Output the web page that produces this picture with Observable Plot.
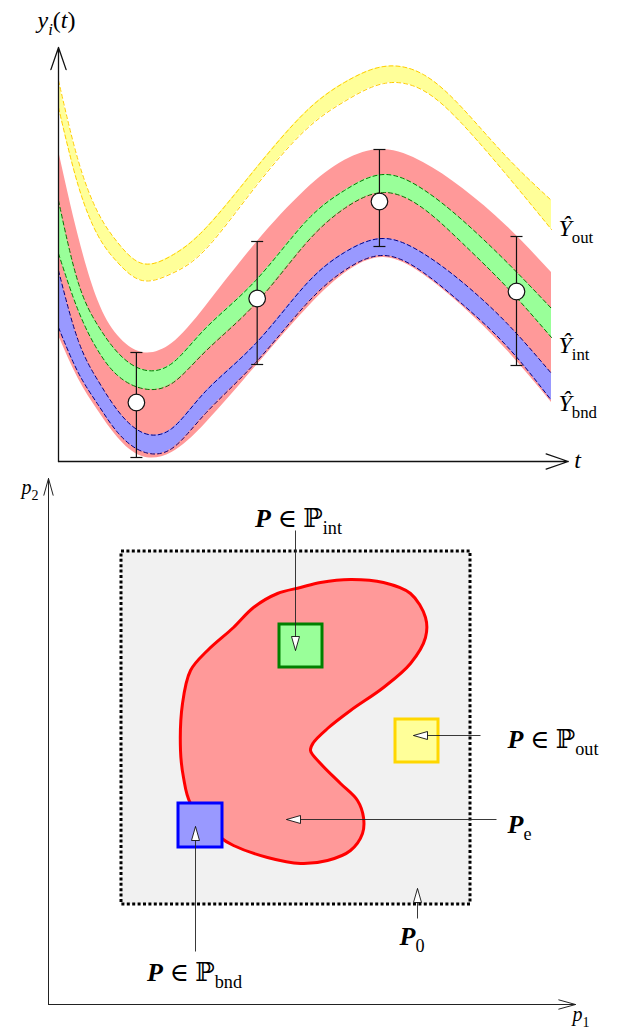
<!DOCTYPE html>
<html>
<head>
<meta charset="utf-8">
<script src="https://cdn.jsdelivr.net/npm/d3@7"></script>
<script src="https://cdn.jsdelivr.net/npm/@observablehq/plot@0.6"></script>
<style>
  html, body { margin: 0; padding: 0; background: white; }
  #chart svg { display: block; }
</style>
</head>
<body>
<div id="chart"></div>
<script>
// ---------- Top panel data: y_i(t) bands ----------
const t          = [0, 0.4, 0.8, 1.2, 1.7, 2.3, 3, 4, 5, 5.8, 6.6, 7.4, 8.2, 9.1, 10];
const redTop     = [31.1, 22.6, 16.1, 12.6, 10.9, 11.8, 15.6, 21.8, 27.1, 30.1, 31.2, 29.9, 27.3, 23.5, 18.9];
const redBottom  = [12.6, 8.3, 5.1, 2.4, 0.5, 0.9, 3.9, 9.5, 15.1, 18.8, 20.4, 18.7, 15.5, 11.1, 5.9];
const outUpper   = [38.1, 30.1, 24.9, 21.9, 19.8, 20.6, 23.4, 29.3, 34.9, 37.9, 39.5, 38.7, 35.3, 30.4, 26.1];
const outLower   = [35.4, 27.6, 22.6, 19.9, 18.1, 18.8, 21.3, 27.5, 33.1, 36.0, 37.8, 37.1, 33.7, 28.6, 23.2];
const intUpper   = [26.1, 17.9, 13.6, 10.9, 9.2, 9.8, 13.4, 18.1, 23.9, 27.1, 28.7, 27.2, 24.1, 19.9, 15.3];
const intLower   = [20.8, 15.1, 11.1, 8.6, 7.3, 7.8, 11.1, 15.8, 21.7, 25.3, 26.9, 25.3, 21.8, 17.4, 12.4];
const bndUpper   = [19.1, 12.1, 8.1, 5.1, 2.9, 3.3, 7.1, 11.8, 17.6, 20.9, 22.3, 20.8, 17.9, 13.8, 8.8];
const bndLower   = [13.4, 8.9, 5.7, 2.9, 1.0, 1.3, 4.9, 9.9, 15.6, 19.1, 20.6, 18.9, 15.7, 11.5, 6.1];

// measurements with error bars
const tObs   = [1.58, 4.03, 6.51, 9.29];
const yObs   = [5.9, 16.3, 26.0, 17.0];
const yErrLo = [0.4, 9.7, 21.5, 9.6];
const yErrHi = [10.9, 22.0, 31.2, 22.5];

// axis extents (top)
const tAxisEnd = 10.34;
const yAxisEnd = 41.4;

const topLabels = [
  {t: -0.04, y: 44.1, text: "*y*_{*i*}(*t*)", anchor: "middle"},
  {t: 10.53, y: 0.1,  text: "*t*",            anchor: "middle"},
  {t: 10.14, y: 23.3, text: "*Ŷ*_{out}",      anchor: "start"},
  {t: 10.14, y: 11.6, text: "*Ŷ*_{int}",      anchor: "start"},
  {t: 10.14, y: 5.8,  text: "*Ŷ*_{bnd}",      anchor: "start"}
];

// ---------- Bottom panel data: parameter space ----------
const boxP1 = [7.3, 42.2];
const boxP2 = [10.0, 45.3];

const blobP1 = [13.2, 13.4, 14.2, 15.9, 18.5, 20.5, 22.9, 25.2, 27.2, 30.2, 33.5, 36.2, 37.7, 37.7, 36.2, 33.5, 30.2, 27.9, 26.5, 26.2, 27.2, 29.2, 30.9, 31.5, 31.4, 30.2, 27.9, 25.2, 21.9, 18.5, 17.2, 14.2, 13.5];
const blobP2 = [25.4, 30.1, 33.4, 35.4, 37.7, 39.7, 41.1, 41.7, 42.2, 42.5, 42.2, 41.1, 38.7, 36.7, 34.1, 31.7, 29.4, 27.6, 26.2, 25.4, 24.1, 22.1, 20.4, 18.7, 17.1, 15.4, 14.4, 14.1, 14.7, 15.9, 16.7, 20.1, 22.7];

const sqNames = ["int", "out", "bnd"];
const sqP1lo  = [23.1, 34.7, 13.0];
const sqP1hi  = [27.4, 39.0, 17.4];
const sqP2lo  = [33.7, 24.2, 15.7];
const sqP2hi  = [38.0, 28.5, 20.1];

const arrowNames  = ["int", "out", "e", "0", "bnd"];
const arrowFromP1 = [24.7, 43.2, 44.8, 36.9, 14.7];
const arrowFromP2 = [47.4, 26.9, 18.5, 8.6, 5.3];
const arrowTipP1  = [24.7, 36.5, 23.8, 36.9, 14.7];
const arrowTipP2  = [35.4, 26.9, 18.5, 11.6, 17.8];

const pAxisEnd1 = 52.7;
const pAxisEnd2 = 52.6;

const botLabels = [
  {p1: 25.0, p2: 48.6, text: "**P** ∈ ℙ_{int}", anchor: "middle"},
  {p1: 45.9, p2: 26.5, text: "**P** ∈ ℙ_{out}", anchor: "start"},
  {p1: 45.9, p2: 18.0, text: "**P**_{e}",        anchor: "start"},
  {p1: 35.1, p2: 6.8,  text: "**P**_{0}",        anchor: "start"},
  {p1: 14.6, p2: 3.2,  text: "**P** ∈ ℙ_{bnd}", anchor: "middle"}
];
const axisLabels = [
  {p1: -1.0, p2: 51.7, text: "*p*_{2}", anchor: "end"},
  {p1: 52.4, p2: -1.0, text: "*p*_{1}", anchor: "start"}
];

// ---------- build tables ----------
const curve = t.map((ti, i) => ({
  t: ti, redTop: redTop[i], redBottom: redBottom[i],
  outUpper: outUpper[i], outLower: outLower[i],
  intUpper: intUpper[i], intLower: intLower[i],
  bndUpper: bndUpper[i], bndLower: bndLower[i]
}));
const obs = tObs.map((ti, i) => ({t: ti, y: yObs[i], lo: yErrLo[i], hi: yErrHi[i]}));
const blob = blobP1.map((p, i) => ({p1: p, p2: blobP2[i]}));
const squares = sqNames.map((n, i) => ({name: n, x1: sqP1lo[i], x2: sqP1hi[i], y1: sqP2lo[i], y2: sqP2hi[i]}));
const sqFill = {int: "#99ff99", out: "#ffff99", bnd: "#9999ff"};
const sqStroke = {int: "#008000", out: "#ffd700", bnd: "#0000ff"};
const arrows = arrowNames.map((n, i) => ({
  name: n, x1: arrowFromP1[i], y1: arrowFromP2[i], x2: arrowTipP1[i], y2: arrowTipP2[i],
  rot: Math.atan2(arrowTipP1[i] - arrowFromP1[i], arrowTipP2[i] - arrowFromP2[i]) * 180 / Math.PI
}));

const capSymbol = {draw(ctx) { ctx.moveTo(-6, 0); ctx.lineTo(6, 0); }};
const headSymbol = {draw(ctx) { ctx.moveTo(0, 0); ctx.lineTo(4, 14); ctx.lineTo(-4, 14); ctx.closePath(); }};

const serif = "'Liberation Serif', 'DejaVu Serif', serif";
const cr = "natural";

function band(lo, hi, fill) {
  return Plot.areaY(curve, {x: "t", y1: lo, y2: hi, fill, curve: cr});
}
function dashed(key, stroke) {
  return Plot.line(curve, {x: "t", y: key, stroke, strokeWidth: 1, strokeDasharray: "4,3", curve: cr});
}
function labelMarks(data, xk, yk, size) {
  return ["start", "middle", "end"].map(a =>
    Plot.text(data.filter(d => d.anchor === a), {x: xk, y: yk, text: "text", textAnchor: a, fontSize: size, fill: "black"}));
}

const topChart = Plot.plot({
  width: 625, height: 470,
  marginLeft: 58, marginRight: 74, marginTop: 41, marginBottom: 9,
  x: {domain: [0, 10], axis: null},
  y: {domain: [0, 42], axis: null},
  style: {fontFamily: serif, background: "white", overflow: "visible"},
  marks: [
    band("redBottom", "redTop", "#ff9999"),
    band("outLower", "outUpper", "#ffff99"),
    band("intLower", "intUpper", "#99ff99"),
    band("bndLower", "bndUpper", "#9999ff"),
    dashed("outUpper", "#ffcc00"), dashed("outLower", "#ffcc00"),
    dashed("intUpper", "#007a00"), dashed("intLower", "#007a00"),
    dashed("bndUpper", "#000080"), dashed("bndLower", "#000080"),
    Plot.arrow([{x1: 0, y1: 0, x2: tAxisEnd, y2: 0}, {x1: 0, y1: 0, x2: 0, y2: yAxisEnd}],
      {x1: "x1", y1: "y1", x2: "x2", y2: "y2", stroke: "#111", strokeWidth: 1.3, headAngle: 38, headLength: 27}),
    Plot.ruleX(obs, {x: "t", y1: "lo", y2: "hi", stroke: "#111", strokeWidth: 1.2}),
    Plot.dot(obs, {x: "t", y: "lo", symbol: capSymbol, fill: "none", stroke: "#111", strokeWidth: 1.2}),
    Plot.dot(obs, {x: "t", y: "hi", symbol: capSymbol, fill: "none", stroke: "#111", strokeWidth: 1.2}),
    Plot.dot(obs, {x: "t", y: "y", r: 8.3, fill: "white", stroke: "#111", strokeWidth: 1.2}),
    ...labelMarks(topLabels, "t", "y", 24)
  ]
});

const bottomChart = Plot.plot({
  width: 625, height: 560,
  marginLeft: 48, marginRight: 77, marginTop: 34, marginBottom: 26,
  x: {domain: [0, 50], axis: null},
  y: {domain: [0, 50], axis: null},
  color: {type: "identity"},
  style: {fontFamily: serif, background: "white", overflow: "visible"},
  marks: [
    Plot.rect([{}], {x1: () => boxP1[0], x2: () => boxP1[1], y1: () => boxP2[0], y2: () => boxP2[1],
      fill: "#f1f1f1", stroke: "black", strokeWidth: 3, strokeDasharray: "3,2.4"}),
    Plot.line(blob, {x: "p1", y: "p2", curve: "catmull-rom-closed", fill: "#ff9999", stroke: "#ff0000", strokeWidth: 3}),
    Plot.rect(squares, {x1: "x1", x2: "x2", y1: "y1", y2: "y2",
      fill: d => sqFill[d.name], stroke: d => sqStroke[d.name], strokeWidth: 3}),
    Plot.link(arrows, {x1: "x1", y1: "y1", x2: "x2", y2: "y2", stroke: "#222", strokeWidth: 0.9}),
    Plot.dot(arrows, {x: "x2", y: "y2", symbol: headSymbol, rotate: "rot", fill: "white", stroke: "#111", strokeWidth: 0.9}),
    Plot.arrow([{x1: 0, y1: 0, x2: pAxisEnd1, y2: 0}, {x1: 0, y1: 0, x2: 0, y2: pAxisEnd2}],
      {x1: "x1", y1: "y1", x2: "x2", y2: "y2", stroke: "#222", strokeWidth: 1, headAngle: 31, headLength: 26}),
    ...labelMarks(botLabels, "p1", "p2", 26),
    ...labelMarks(axisLabels, "p1", "p2", 20)
  ]
});

const host = document.getElementById("chart");
host.appendChild(topChart);
host.appendChild(bottomChart);

// turn light markup (*italic*, **bold italic**, _{sub}) into tspans
function richify(svg) {
  d3.select(svg).selectAll("text").each(function () {
    const el = this;
    const s = el.textContent;
    if (!/[*_]/.test(s)) return;
    const fs = parseFloat(getComputedStyle(el).fontSize) || 16;
    el.textContent = "";
    const re = /\*\*(.+?)\*\*|\*(.+?)\*|_\{(.+?)\}|([^*_]+)/g;
    let m, shifted = 0;
    while ((m = re.exec(s))) {
      const ts = document.createElementNS("http://www.w3.org/2000/svg", "tspan");
      let txt, style = "normal", weight = "normal", sub = false;
      if (m[1] != null) { txt = m[1]; style = "italic"; weight = "bold"; }
      else if (m[2] != null) { txt = m[2]; style = "italic"; }
      else if (m[3] != null) {
        sub = true; txt = m[3];
        if (/^\*.*\*$/.test(txt)) { txt = txt.slice(1, -1); style = "italic"; }
      } else txt = m[4];
      ts.textContent = txt;
      ts.setAttribute("font-style", style);
      ts.setAttribute("font-weight", weight);
      const target = sub ? 0.28 * fs : 0;
      if (target !== shifted) { ts.setAttribute("dy", target - shifted); shifted = target; }
      if (sub) ts.setAttribute("font-size", 0.7 * fs);
      el.appendChild(ts);
    }
  });
}
richify(topChart);
richify(bottomChart);
</script>
</body>
</html>
